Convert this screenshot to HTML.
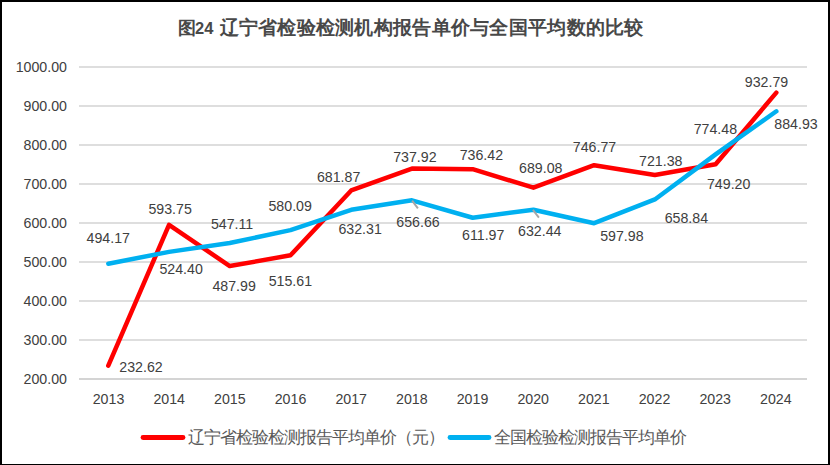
<!DOCTYPE html>
<html><head><meta charset="utf-8"><style>
html,body{margin:0;padding:0;background:#fff;}
#f{position:absolute;left:0;top:0;width:830px;height:465px;box-sizing:border-box;border-style:solid;border-color:#000;border-width:2px 2px 1px 2px;background:#fff;}
svg{position:absolute;left:0;top:0;}
.t{font-family:"Liberation Sans",sans-serif;font-size:14.2px;fill:#404040;}
.lg{font-family:"Liberation Sans",sans-serif;font-size:17px;letter-spacing:-1px;font-weight:350;fill:#595959;}
.ti{font-family:"Liberation Sans",sans-serif;font-size:18.7px;font-weight:bold;fill:#484848;}
</style></head><body>
<div id="f"></div>
<svg width="830" height="465" viewBox="0 0 830 465">
<rect x="79" y="66" width="728" height="2" fill="#dedede"/>
<rect x="79" y="105" width="728" height="2" fill="#dedede"/>
<rect x="79" y="144" width="728" height="2" fill="#dedede"/>
<rect x="79" y="183" width="728" height="2" fill="#dedede"/>
<rect x="79" y="222" width="728" height="2" fill="#dedede"/>
<rect x="79" y="261" width="728" height="2" fill="#dedede"/>
<rect x="79" y="300" width="728" height="2" fill="#dedede"/>
<rect x="79" y="339" width="728" height="2" fill="#dedede"/>
<rect x="79" y="378" width="728" height="2" fill="#d4d4d4"/>
<text x="67" y="72.1" text-anchor="end" class="t">1000.00</text>
<text x="67" y="111.1" text-anchor="end" class="t">900.00</text>
<text x="67" y="150.1" text-anchor="end" class="t">800.00</text>
<text x="67" y="189.1" text-anchor="end" class="t">700.00</text>
<text x="67" y="228.1" text-anchor="end" class="t">600.00</text>
<text x="67" y="267.1" text-anchor="end" class="t">500.00</text>
<text x="67" y="306.1" text-anchor="end" class="t">400.00</text>
<text x="67" y="345.1" text-anchor="end" class="t">300.00</text>
<text x="67" y="384.1" text-anchor="end" class="t">200.00</text>
<text x="108.53" y="404.2" text-anchor="middle" class="t">2013</text>
<text x="169.20" y="404.2" text-anchor="middle" class="t">2014</text>
<text x="229.87" y="404.2" text-anchor="middle" class="t">2015</text>
<text x="290.53" y="404.2" text-anchor="middle" class="t">2016</text>
<text x="351.20" y="404.2" text-anchor="middle" class="t">2017</text>
<text x="411.87" y="404.2" text-anchor="middle" class="t">2018</text>
<text x="472.53" y="404.2" text-anchor="middle" class="t">2019</text>
<text x="533.20" y="404.2" text-anchor="middle" class="t">2020</text>
<text x="593.87" y="404.2" text-anchor="middle" class="t">2021</text>
<text x="654.53" y="404.2" text-anchor="middle" class="t">2022</text>
<text x="715.20" y="404.2" text-anchor="middle" class="t">2023</text>
<text x="775.87" y="404.2" text-anchor="middle" class="t">2024</text>
<path d="M108.30,365.68 L169.03,224.84 L229.76,266.08 L290.49,255.31 L351.22,190.47 L411.95,168.61 L472.68,169.20 L533.41,187.66 L594.14,165.16 L654.87,175.06 L715.60,164.21 L776.33,92.61" fill="none" stroke="#ff0000" stroke-width="4.5" stroke-linejoin="round" stroke-linecap="round"/>
<path d="M108.30,263.67 L169.03,251.88 L229.76,243.03 L290.49,230.16 L351.22,209.80 L411.95,200.30 L472.68,217.73 L533.41,209.75 L594.14,223.19 L654.87,199.45 L715.60,154.35 L776.33,111.28" fill="none" stroke="#00b0f0" stroke-width="4.5" stroke-linejoin="round" stroke-linecap="round"/>
<line x1="412.1" y1="200.6" x2="417.9" y2="208.4" stroke="#a6a6a6" stroke-width="1.9"/>
<line x1="532.9" y1="209.9" x2="538.9" y2="217.7" stroke="#a6a6a6" stroke-width="1.9"/>
<text x="141.0" y="372.0" text-anchor="middle" class="t">232.62</text>
<text x="170.1" y="214.0" text-anchor="middle" class="t">593.75</text>
<text x="234.1" y="291.0" text-anchor="middle" class="t">487.99</text>
<text x="290.4" y="285.8" text-anchor="middle" class="t">515.61</text>
<text x="338.6" y="182.2" text-anchor="middle" class="t">681.87</text>
<text x="414.9" y="161.8" text-anchor="middle" class="t">737.92</text>
<text x="481.4" y="159.8" text-anchor="middle" class="t">736.42</text>
<text x="540.8" y="173.3" text-anchor="middle" class="t">689.08</text>
<text x="594.5" y="151.7" text-anchor="middle" class="t">746.77</text>
<text x="660.8" y="166.0" text-anchor="middle" class="t">721.38</text>
<text x="728.7" y="189.2" text-anchor="middle" class="t">749.20</text>
<text x="766.5" y="87.2" text-anchor="middle" class="t">932.79</text>
<text x="108.3" y="243.3" text-anchor="middle" class="t">494.17</text>
<text x="181.1" y="274.3" text-anchor="middle" class="t">524.40</text>
<text x="232.1" y="229.2" text-anchor="middle" class="t">547.11</text>
<text x="290.2" y="210.5" text-anchor="middle" class="t">580.09</text>
<text x="360.1" y="234.0" text-anchor="middle" class="t">632.31</text>
<text x="418.0" y="226.6" text-anchor="middle" class="t">656.66</text>
<text x="483.2" y="240.0" text-anchor="middle" class="t">611.97</text>
<text x="539.8" y="235.7" text-anchor="middle" class="t">632.44</text>
<text x="621.9" y="240.6" text-anchor="middle" class="t">597.98</text>
<text x="686.4" y="223.1" text-anchor="middle" class="t">658.84</text>
<text x="715.4" y="133.6" text-anchor="middle" class="t">774.48</text>
<text x="796.0" y="129.0" text-anchor="middle" class="t">884.93</text>
<line x1="143" y1="437.5" x2="183" y2="437.5" stroke="#ff0000" stroke-width="4.8" stroke-linecap="round"/>
<line x1="450" y1="437.5" x2="489" y2="437.5" stroke="#00b0f0" stroke-width="4.8" stroke-linecap="round"/>
<text x="188" y="443" class="lg">辽宁省检验检测报告平均单价（元）</text>
<text x="494" y="443" class="lg">全国检验检测报告平均单价</text>
<text x="177.5" y="33.5" class="ti" style="font-size:18px">图</text><text x="195" y="33.5" class="ti" style="font-size:16.5px">24</text><text x="219.5" y="33.5" class="ti" letter-spacing="0.28">辽宁省检验检测机构报告单价与全国平均数的比较</text>
</svg>
</body></html>
